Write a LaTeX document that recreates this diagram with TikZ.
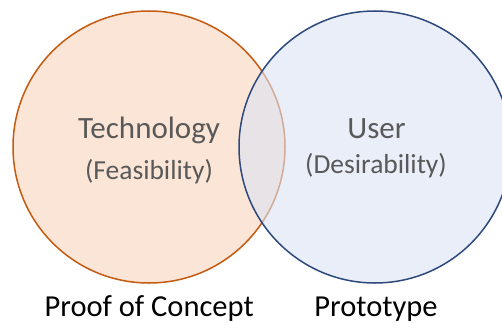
\documentclass[tikz,border=0pt]{standalone}
\usepackage{fontspec}
\setmainfont{Carlito}
\definecolor{techfill}{HTML}{FBE5D6}
\definecolor{techline}{HTML}{C55A11}
\definecolor{userfill}{HTML}{DAE3F3}
\definecolor{userline}{HTML}{2E4A7D}
\definecolor{labelgray}{HTML}{595959}
\tikzset{
  setcircle/.style={circle, minimum size=272pt, inner sep=0pt, line width=1.5pt},
  maintitle/.style={anchor=base, inner sep=0pt, text=labelgray, font=\fontsize{31}{36}\selectfont},
  subtitle/.style={anchor=base, inner sep=0pt, text=labelgray, font=\fontsize{27.5}{32}\selectfont},
  caption/.style={anchor=base, inner sep=0pt, text=black, font=\fontsize{30.5}{34}\selectfont}
}
\begin{document}
\begin{tikzpicture}[x=1pt, y=-1pt]
  \useasboundingbox (0,0) rectangle (502,323);
  \begin{scope}
    \clip (0,0) rectangle (502,323);
    % technology set, opaque
    \node[setcircle, draw=techline, fill=techfill] (tech) at (149,147) {};
    % user set, translucent fill over the technology set
    \node[setcircle, draw=userline, fill=userfill, fill opacity=0.6] (user) at (375,147) {};
  \end{scope}
  \node[maintitle] (techname) at (149,138.3) {Technology};
  \node[subtitle] (techsub) at (149,179) {(Feasibility)};
  \node[maintitle] (username) at (376.5,138.3) {User};
  \node[subtitle] (usersub) at (376,173.3) {(Desirability)};
  \node[caption] (poc) at (149.2,316.5) {Proof of Concept};
  \node[caption] (proto) at (376,316.5) {Prototype};
\end{tikzpicture}
\end{document}
